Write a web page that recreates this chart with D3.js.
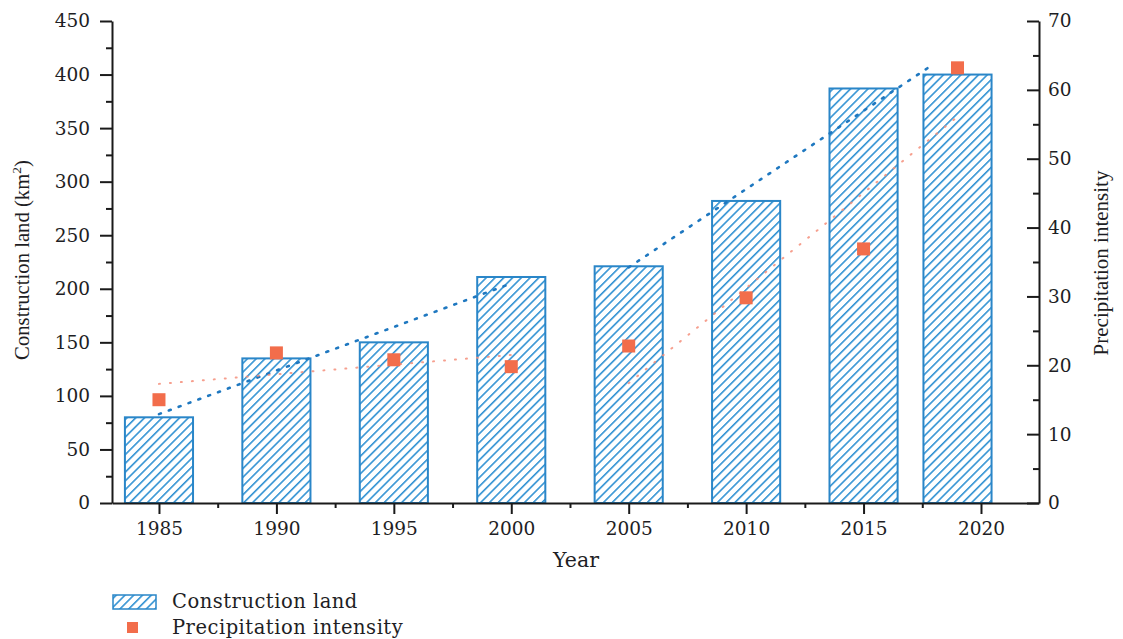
<!DOCTYPE html>
<html>
<head>
<meta charset="utf-8">
<script src="https://cdn.jsdelivr.net/npm/d3@7"></script>
<style>
  html, body { margin: 0; padding: 0; background: #fff; }
  svg { display: block; }
</style>
</head>
<body>
<svg id="chart" width="1123" height="639"></svg>
<script>
// Years of observation (last survey year is 2019)
const years = [1985, 1990, 1995, 2000, 2005, 2010, 2015, 2019];
// Construction land area, km²
const constructionLand = [80, 135, 150, 211, 221, 282, 387, 400];
// Precipitation intensity
const precipitation = [15.0, 21.8, 20.8, 19.8, 22.8, 29.8, 36.9, 63.2];
// Axis tick labels
const yearTicks = [1985, 1990, 1995, 2000, 2005, 2010, 2015, 2020];
const landTicks = [0, 50, 100, 150, 200, 250, 300, 350, 400, 450];
const precipTicks = [0, 10, 20, 30, 40, 50, 60, 70];
// Trend segments [year, value] for the two periods
const landTrend1 = [[1985, 83], [2000, 205]];
const landTrend2 = [[2005, 220], [2018, 410]];
const precipTrend1 = [[1985, 17.3], [2000, 21.5]];
const precipTrend2 = [[2005, 17.4], [2019, 56.1]];

const svg = d3.select("#chart");
const plotLeft = 112, plotRight = 1039, plotTop = 21, plotBottom = 503;
const blue = "#2a86c8";
const orange = "#f26d4b";
const textColor = "#1e1e24";
const tickFont = "'DejaVu Serif', 'Liberation Serif', serif";
const titleFont = "'Liberation Serif', 'DejaVu Serif', serif";

const x = d3.scaleLinear().domain([1983, 2022.47]).range([plotLeft, plotRight]);
const yL = d3.scaleLinear().domain([0, 450]).range([plotBottom, plotTop]);
const yR = d3.scaleLinear().domain([0, 70]).range([plotBottom, plotTop]);

// Hatch pattern for the bars
const hs = 6.2;
const defs = svg.append("defs");
const pat = defs.append("pattern")
  .attr("id", "hatch").attr("patternUnits", "userSpaceOnUse")
  .attr("width", hs).attr("height", hs)
  .attr("patternTransform", "rotate(45)");
pat.append("rect").attr("width", hs).attr("height", hs).attr("fill", "#fff");
pat.append("line").attr("x1", 0).attr("y1", 0).attr("x2", 0).attr("y2", hs)
  .attr("stroke", "#3192d3").attr("stroke-width", 3.2);

// Bars
const barW = x(1985 + 2.9) - x(1985);
svg.append("g").selectAll("rect").data(years).join("rect")
  .attr("x", (d) => x(d) - barW / 2)
  .attr("y", (d, i) => yL(constructionLand[i]))
  .attr("width", barW)
  .attr("height", (d, i) => yL(0) - yL(constructionLand[i]))
  .attr("fill", "url(#hatch)")
  .attr("stroke", blue).attr("stroke-width", 2);

// Trend lines
const lineL = d3.line().x((d) => x(d[0])).y((d) => yL(d[1]));
const lineR = d3.line().x((d) => x(d[0])).y((d) => yR(d[1]));
[landTrend1, landTrend2].forEach((seg) => {
  svg.append("path").attr("d", lineL(seg)).attr("fill", "none")
    .attr("stroke", "#1f78c0").attr("stroke-width", 2.6)
    .attr("stroke-linecap", "round").attr("stroke-dasharray", "2,8.5");
});
[precipTrend1, precipTrend2].forEach((seg) => {
  svg.append("path").attr("d", lineR(seg)).attr("fill", "none")
    .attr("stroke", "#f58e7a").attr("stroke-width", 2)
    .attr("stroke-linecap", "round").attr("stroke-dasharray", "1,10").attr("opacity", 0.85);
});

// Precipitation markers
const sq = 13;
svg.append("g").selectAll("rect").data(years).join("rect")
  .attr("x", (d) => x(d) - sq / 2)
  .attr("y", (d, i) => yR(precipitation[i]) - sq / 2)
  .attr("width", sq).attr("height", sq)
  .attr("fill", orange);

// Axes
const axisColor = "#1a1a1a";
function styleAxis(g) {
  g.selectAll("path.domain").attr("stroke", axisColor).attr("stroke-width", 2);
  g.selectAll(".tick line").attr("stroke", axisColor).attr("stroke-width", 2);
  g.attr("font-size", null).attr("font-family", null);
  g.selectAll("text").style("font-size", "18.5px").style("fill", textColor)
    .style("font-family", tickFont);
}

// Minor ticks
const minorX = d3.range(1987.5, 2022, 5);
svg.append("g").attr("transform", `translate(0,${plotBottom})`)
  .call(d3.axisBottom(x).tickValues(minorX).tickSize(5).tickFormat(""))
  .call((g) => g.select(".domain").remove())
  .call(styleAxis);
svg.append("g").attr("transform", `translate(${plotLeft},0)`)
  .call(d3.axisLeft(yL).tickValues(d3.range(25, 450, 50)).tickSize(6).tickFormat(""))
  .call((g) => g.select(".domain").remove())
  .call(styleAxis);
svg.append("g").attr("transform", `translate(${plotRight},0)`)
  .call(d3.axisLeft(yR).tickValues(d3.range(5, 70, 10)).tickSize(6).tickFormat(""))
  .call((g) => g.select(".domain").remove())
  .call(styleAxis);

// Major axes
svg.append("g").attr("transform", `translate(0,${plotBottom})`)
  .call(d3.axisBottom(x).tickValues(yearTicks).tickSize(11).tickSizeOuter(0).tickPadding(8).tickFormat(d3.format("d")))
  .call(styleAxis);
svg.append("g").attr("transform", `translate(${plotLeft},0)`)
  .call(d3.axisLeft(yL).tickValues(landTicks).tickSize(12).tickSizeOuter(0).tickPadding(10))
  .call(styleAxis);
const rAxis = svg.append("g").attr("transform", `translate(${plotRight},0)`)
  .call(d3.axisLeft(yR).tickValues(precipTicks).tickSize(12).tickSizeOuter(0))
  .call(styleAxis);
rAxis.selectAll("text").attr("text-anchor", "start").attr("x", 9);

// Axis titles
svg.append("text").attr("x", 576).attr("y", 567).attr("text-anchor", "middle")
  .style("font-family", tickFont).style("font-size", "20.5px").style("fill", textColor)
  .text("Year");
const lt = svg.append("text")
  .attr("transform", `translate(29,260) rotate(-90)`)
  .attr("text-anchor", "middle")
  .style("font-family", titleFont).style("font-size", "20.7px").style("fill", textColor);
lt.append("tspan").text("Construction land (km");
lt.append("tspan").style("font-size", "13.5px").attr("dy", -8).text("2");
lt.append("tspan").attr("dy", 8).text(")");
svg.append("text")
  .attr("transform", `translate(1108,263) rotate(-90)`)
  .attr("text-anchor", "middle")
  .style("font-family", titleFont).style("font-size", "21px").style("fill", textColor)
  .text("Precipitation intensity");

// Legend
svg.append("rect").attr("x", 113).attr("y", 595).attr("width", 43).attr("height", 14)
  .attr("fill", "url(#hatch)").attr("stroke", blue).attr("stroke-width", 1.5);
svg.append("text").attr("x", 172).attr("y", 608)
  .style("font-family", tickFont).style("font-size", "19.5px").style("letter-spacing", "0.5px")
  .style("fill", textColor).text("Construction land");
svg.append("rect").attr("x", 127).attr("y", 622).attr("width", 11).attr("height", 11)
  .attr("fill", orange);
svg.append("text").attr("x", 172).attr("y", 634)
  .style("font-family", tickFont).style("font-size", "19.5px").style("letter-spacing", "0.5px")
  .style("fill", textColor).text("Precipitation intensity");
</script>
</body>
</html>
